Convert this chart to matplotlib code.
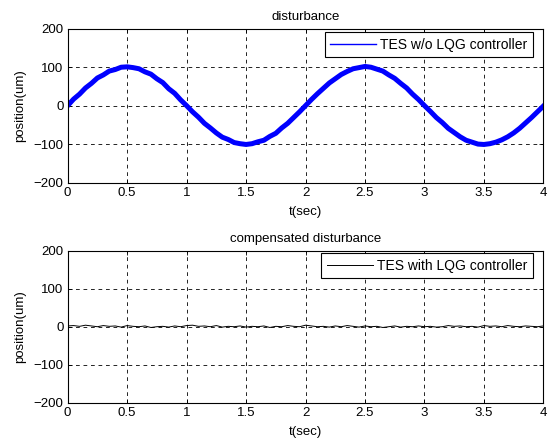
import matplotlib.pyplot as plt

# time axis (sec), one sample every 0.05 s
t = [i * 0.05 for i in range(81)]

# top panel: disturbance without controller (um)
disturbance = [
    0, 17, 30, 46, 58, 72, 80, 90, 94, 100, 101,
    99, 96, 88, 82, 70, 60, 44, 32, 15, 0,
    -16, -30, -46, -58, -71, -82, -88, -96, -99, -101,
    -99, -94, -90, -80, -72, -58, -46, -31, -16, 0,
    16, 31, 45, 59, 70, 81, 89, 96, 99, 102,
    100, 95, 90, 80, 71, 58, 46, 30, 16, 0,
    -15, -31, -44, -59, -70, -81, -90, -95, -100, -101,
    -99, -95, -89, -81, -71, -59, -45, -31, -16, -1,
]

# bottom panel: compensated disturbance (um)
compensated = [
    2, 3, 1, 4, 2, 0, 3, 1, 2, -1, 3,
    1, 0, 2, -2, 0, 1, -1, 2, 0, 3,
    4, 1, 2, 0, 3, -1, 1, 0, 2, -1,
    1, 0, 2, -2, 1, 0, 3, 1, 0, 4,
    2, 0, 1, -1, 2, 0, 3, 1, -1, 2,
    0, 1, -2, 0, 2, -1, 1, 0, 2, 0,
    1, -1, 0, 3, 1, 2, 0, 1, -1, 3,
    1, 2, 0, 3, 1, 0, 2, 1, 0, 2,
]

xticks = [0, 0.5, 1, 1.5, 2, 2.5, 3, 3.5, 4]
xticklabels = ["0", "0.5", "1", "1.5", "2", "2.5", "3", "3.5", "4"]
yticks = [-200, -100, 0, 100, 200]

plt.rcParams["font.family"] = ["Liberation Sans", "DejaVu Sans"]
plt.rcParams["font.size"] = 9.5

fig = plt.figure(figsize=(5.5, 4.43), dpi=100)
ax1 = fig.add_axes([0.123, 0.588, 0.865, 0.347])
ax2 = fig.add_axes([0.123, 0.091, 0.865, 0.343])


def style_axis(ax, title):
    ax.set_xlim(0, 4)
    ax.set_ylim(-200, 200)
    ax.set_xticks(xticks)
    ax.set_xticklabels(xticklabels)
    ax.set_yticks(yticks)
    ax.grid(True, color="k", linestyle=(0, (4.5, 4.5)), linewidth=0.6)
    ax.tick_params(direction="in", length=3, width=0.6, top=True, right=True, pad=3)
    for s in ax.spines.values():
        s.set_linewidth(0.8)
    ax.set_xlabel("t(sec)", labelpad=5)
    ax.set_ylabel("position(um)", labelpad=5)
    ax.set_title(title, fontsize=9.5, pad=6)


def add_legend(ax, top):
    leg = ax.legend(loc="upper right", bbox_to_anchor=(0.978, top), borderaxespad=0,
                    fancybox=False, edgecolor="k", framealpha=1, fontsize=10,
                    handlelength=3.3, handletextpad=0.3, borderpad=0.4)
    leg.get_frame().set_linewidth(0.8)
    return leg


ax1.plot(t, disturbance, color=(0, 0, 1), linewidth=3.6, label="TES w/o LQG controller",
         solid_joinstyle="round")
style_axis(ax1, "disturbance")
leg1 = add_legend(ax1, 0.978)
leg1.get_lines()[0].set_linewidth(1)

ax2.plot(t, compensated, color="k", linewidth=0.7, label="TES with LQG controller")
style_axis(ax2, "compensated disturbance")
add_legend(ax2, 0.985)

fig.savefig("out.png", dpi=100)
